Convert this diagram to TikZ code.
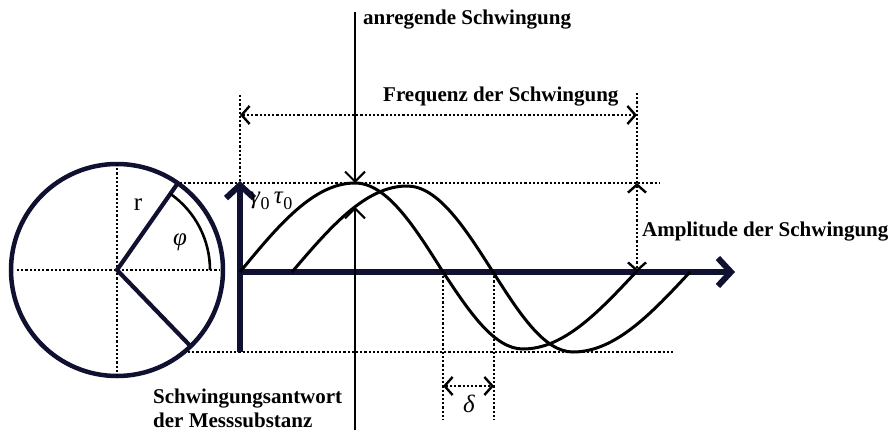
\documentclass[tikz,border=0pt]{standalone}
\usepackage{fontspec}
\setmainfont{Liberation Serif}
\usetikzlibrary{arrows.meta}
\definecolor{navy}{RGB}{16,16,48}
\begin{document}
\begin{tikzpicture}[x=1pt,y=-1pt,
  lbl/.style={font=\fontsize{21}{23}\selectfont\bfseries, anchor=base west, inner sep=0pt},
  sym/.style={font=\fontsize{25}{27}\selectfont, inner sep=0pt},
  dotl/.style={line width=2.4pt, dash pattern=on 2.2pt off 2pt, black},
  dtip/.style={line width=2.4pt, dash pattern=on 2.2pt off 2pt, black,
    {Straight Barb[length=8pt,width=18pt]}-{Straight Barb[length=8pt,width=18pt]}},
  thinarr/.style={line width=2pt, black, -{Straight Barb[length=10pt,width=20pt]}},
  axis/.style={line width=6pt, navy, line cap=butt, -{Straight Barb[length=13pt,width=28pt]}},
  wave/.style={line width=3pt, black}]
\useasboundingbox (0,0) rectangle (896,434);

% circle
\coordinate (C) at (117,270);
\draw[navy, line width=4.5pt] (C) circle[radius=106pt];
\coordinate (CL) at (17,270);
\coordinate (CR) at (220,270);
\coordinate (CT) at (117,164);
\coordinate (CB) at (117,376);
\draw[dotl] (CL) -- (CR);
\draw[dotl] (CT) -- (CB);
\path (C) ++(55:106pt) coordinate (R1);
\path (C) ++(-46:106pt) coordinate (R2);
\path (C) ++(0:93pt) coordinate (A0);
\draw[navy, line width=4.2pt] (R1) -- (C) -- (R2);
\draw[black, line width=2.6pt] (A0) arc[start angle=0, end angle=55, radius=93pt];
\node[sym] (r) at (138,205) {r};
\node[sym] (phi) at (180,242) {\textit{φ}};

% guide lines
\coordinate (T1) at (180,183);
\coordinate (T2) at (660,183);
\coordinate (B1) at (188,352);
\coordinate (B2) at (675,352);
\draw[dotl] (T1) -- (T2);
\draw[dotl] (B1) -- (B2);

% axes
\coordinate (O) at (240,272);
\coordinate (Ybot) at (240,352);
\coordinate (Ytop) at (240,181);
\coordinate (Xend) at (735,272);
\draw[axis] (Ybot) -- (Ytop);
\draw[axis] (O) -- (Xend);
\node[sym, anchor=base west] (gt) at (250,203) {\textit{γ}\raisebox{-0.25em}{\fontsize{18}{18}\selectfont 0}\,\textit{τ}\raisebox{-0.25em}{\fontsize{18}{18}\selectfont 0}};

% waves
\draw[wave] (240,272) sin (355,183) cos (443,272) sin (523,349) cos (636,272);
\draw[wave] (292,272) sin (407,186) cos (493,272) sin (573,352) cos (690,272);

% excitation / response arrows
\coordinate (Ex0) at (355,12);
\coordinate (Ex1) at (355,183);
\coordinate (Re0) at (355,430);
\coordinate (Re1) at (355,207);
\draw[thinarr] (Ex0) -- (Ex1);
\draw[thinarr] (Re0) -- (Re1);
\node[lbl] (anr) at (363,24) {anregende Schwingung};
\node[lbl] (ant1) at (153,403) {Schwingungsantwort};
\node[lbl] (ant2) at (153,427) {der Messsubstanz};

% frequency
\coordinate (F0) at (240,95);
\coordinate (F1) at (637,93);
\coordinate (F0b) at (240,183);
\coordinate (F1b) at (637,183);
\coordinate (FA) at (240,115);
\coordinate (FB) at (637,115);
\draw[dotl] (F0) -- (F0b);
\draw[dotl] (F1) -- (F1b);
\draw[dtip] (FA) -- (FB);
\node[lbl] (freq) at (383,101) {Frequenz der Schwingung};

% amplitude
\coordinate (AmA) at (637,183);
\coordinate (AmB) at (637,272);
\draw[dtip] (AmA) -- (AmB);
\node[lbl] (amp) at (642,236) {Amplitude der Schwingung};

% delta
\coordinate (D1) at (443,272);
\coordinate (D2) at (494,272);
\coordinate (D1b) at (443,420);
\coordinate (D2b) at (494,420);
\draw[dotl] (D1) -- (D1b);
\draw[dotl] (D2) -- (D2b);
\coordinate (DA) at (443,386);
\coordinate (DB) at (494,386);
\draw[dtip] (DA) -- (DB);
\node[sym] (delta) at (469,404) {\textit{δ}};
\end{tikzpicture}
\end{document}
